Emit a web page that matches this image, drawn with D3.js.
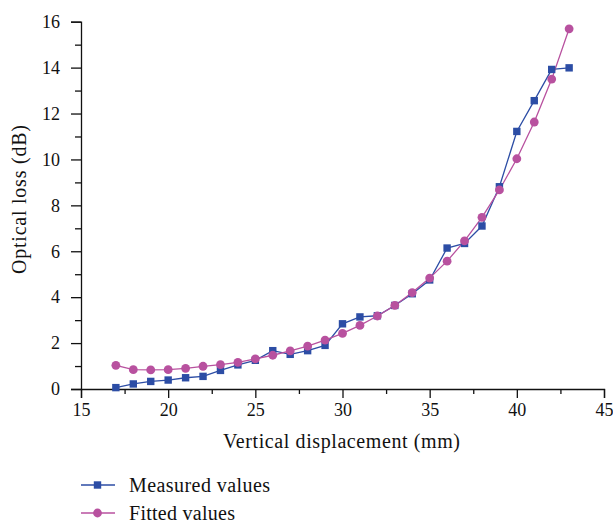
<!DOCTYPE html>
<html><head><meta charset="utf-8">
<script src="https://cdn.jsdelivr.net/npm/d3@7"></script>
<style>body{margin:0;background:#fff}svg{display:block}text{font-family:"Liberation Serif","DejaVu Serif",serif;fill:#111}</style>
</head><body><svg id="c" width="613" height="522"></svg>
<script>
const displacement = [17,18,19,20,21,22,23,24,25,26,27,28,29,30,31,32,33,34,35,36,37,38,39,40,41,42,43];
const measured = [0.06,0.22,0.33,0.39,0.49,0.55,0.81,1.05,1.25,1.67,1.51,1.67,1.90,2.84,3.14,3.19,3.64,4.15,4.75,6.14,6.34,7.10,8.81,11.22,12.56,13.92,13.99];
const fitted = [1.03,0.84,0.83,0.84,0.90,0.99,1.06,1.16,1.31,1.47,1.66,1.87,2.13,2.42,2.77,3.18,3.64,4.20,4.83,5.57,6.45,7.48,8.67,10.03,11.63,13.50,15.69];
const xTicks = [15,20,25,30,35,40,45];
const yTicks = [0,2,4,6,8,10,12,14,16];
const seriesNames = ["Measured values","Fitted values"];
const colors = ["#2c4da5","#b8519f"];

const svg = d3.select("#c");
const x = d3.scaleLinear().domain([15,45]).range([81,604]);
const y = d3.scaleLinear().domain([0,16]).range([389,21.7]);

const xMinor = d3.range(17.5,45,5);
const yMinor = d3.range(1,16,2);
svg.append("g").attr("transform","translate(0,389)")
  .call(d3.axisBottom(x).tickValues(xMinor).tickSize(5).tickFormat("")).select(".domain").remove();
const gx = svg.append("g").attr("transform","translate(0,389)")
  .call(d3.axisBottom(x).tickValues(xTicks).tickSize(9).tickPadding(5).tickFormat(d3.format("d")));
svg.append("g").attr("transform","translate(81,0)")
  .call(d3.axisLeft(y).tickValues(yMinor).tickSize(6).tickFormat("")).select(".domain").remove();
const gy = svg.append("g").attr("transform","translate(81,0)")
  .call(d3.axisLeft(y).tickValues(yTicks).tickSize(10).tickPadding(11).tickFormat(d3.format("d")));
svg.selectAll(".domain").attr("stroke","#111").attr("stroke-width",1.3);
svg.selectAll(".tick line").attr("stroke","#111").attr("stroke-width",1.3);
svg.selectAll(".tick text").style("font-size","18px").style("font-family","Liberation Serif").attr("fill","#111");

svg.append("text").attr("x",341.5).attr("y",448).attr("text-anchor","middle").style("font-size","20px")
  .attr("textLength",237).attr("lengthAdjust","spacing").text("Vertical displacement (mm)");
svg.append("text").attr("transform","translate(26,199.5) rotate(-90)").attr("text-anchor","middle").style("font-size","20px")
  .attr("textLength",149).attr("lengthAdjust","spacing").text("Optical loss (dB)");

const line = d3.line().x((d,i)=>x(displacement[i])).y(d=>y(d));
svg.append("path").attr("d",line(measured)).attr("fill","none").attr("stroke",colors[0]).attr("stroke-width",1.3);
svg.append("path").attr("d",line(fitted)).attr("fill","none").attr("stroke",colors[1]).attr("stroke-width",1.3);

svg.append("g").selectAll("rect").data(measured).join("rect")
  .attr("x",(d,i)=>x(displacement[i])-3.7).attr("y",d=>y(d)-3.7).attr("width",7.4).attr("height",7.4).attr("fill",colors[0]);
svg.append("g").selectAll("circle").data(fitted).join("circle")
  .attr("cx",(d,i)=>x(displacement[i])).attr("cy",d=>y(d)).attr("r",4.4).attr("fill",colors[1]);

const lg = svg.append("g");
const lens = [141,106];
[485,513].forEach((ly,k)=>{
  lg.append("line").attr("x1",81).attr("x2",115).attr("y1",ly).attr("y2",ly).attr("stroke",colors[k]).attr("stroke-width",1.3);
  if(k===0) lg.append("rect").attr("x",97.5-3.7).attr("y",ly-3.7).attr("width",7.4).attr("height",7.4).attr("fill",colors[0]);
  else lg.append("circle").attr("cx",97.5).attr("cy",ly).attr("r",4.4).attr("fill",colors[1]);
  lg.append("text").attr("x",129).attr("y",ly+6.5).style("font-size","20px")
    .attr("textLength",lens[k]).attr("lengthAdjust","spacing").text(seriesNames[k]);
});
</script></body></html>
